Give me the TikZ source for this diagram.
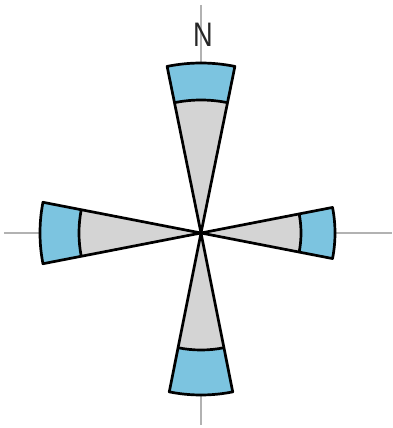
\documentclass[tikz,border=0pt]{standalone}
\usepackage{fontspec}
\newfontfamily\labelfont{Liberation Sans}
\usepackage{tikz}

\definecolor{bandblue}{RGB}{124,196,224}
\definecolor{conegray}{RGB}{212,212,212}
\definecolor{axisgray}{RGB}{178,178,178}

\begin{document}
\begin{tikzpicture}[x=1pt,y=1pt,
    axis/.style={draw=axisgray,line width=1.3pt},
    petal/.style={draw=black,line width=2.7pt,line join=round},
    band/.style={fill=bandblue},
    cone/.style={fill=conegray}]
    \useasboundingbox (-201,-195) rectangle (191,233);

    % Axes.
    \draw[axis] (-197,0) -- (191,0);
    \draw[axis] (0,228) -- (0,-192);
    \node[font=\labelfont\fontsize{34}{34}\selectfont,text=black!85,
        xscale=0.8,inner sep=0pt] (north-label) at (2,198) {N};

    % Petals: direction / half-angle / inner radius / outer radius.
    \foreach \dir/\hw/\rin/\rout in {90/11.5/133/170,180/11/122/161,
        0/11/100/134,270/11.3/117/162}{
        \fill[cone] (0,0) -- (\dir-\hw:\rin)
            arc[start angle=\dir-\hw,end angle=\dir+\hw,radius=\rin] -- cycle;
        \fill[band] (\dir-\hw:\rin) -- (\dir-\hw:\rout)
            arc[start angle=\dir-\hw,end angle=\dir+\hw,radius=\rout]
            -- (\dir+\hw:\rin)
            arc[start angle=\dir+\hw,end angle=\dir-\hw,radius=\rin] -- cycle;
        \draw[petal] (\dir-\hw:\rin)
            arc[start angle=\dir-\hw,end angle=\dir+\hw,radius=\rin];
        \draw[petal] (0,0) -- (\dir-\hw:\rout)
            arc[start angle=\dir-\hw,end angle=\dir+\hw,radius=\rout] -- cycle;
    }
\end{tikzpicture}
\end{document}
